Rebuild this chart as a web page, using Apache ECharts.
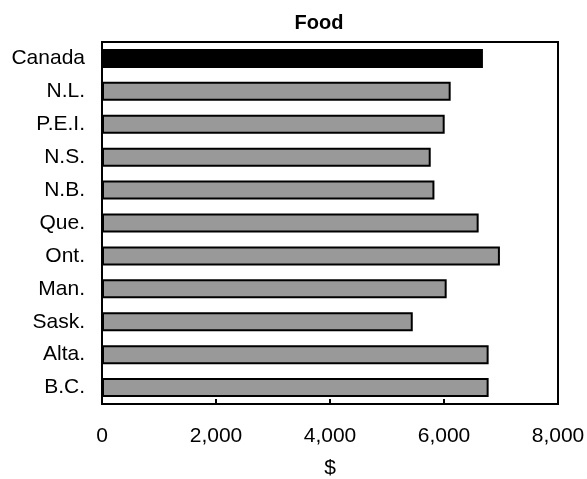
<!DOCTYPE html>
<html>
<head>
<meta charset="utf-8">
<script src="https://cdn.jsdelivr.net/npm/echarts@6/dist/echarts.min.js"></script>
<style>html,body{margin:0;padding:0;background:#fff;}#c{width:587px;height:479px;}</style>
</head>
<body>
<div id="c"></div>
<script>
const categories = ["Canada", "N.L.", "P.E.I.", "N.S.", "N.B.", "Que.", "Ont.", "Man.", "Sask.", "Alta.", "B.C."];
const values = [6683, 6117, 6012, 5767, 5832, 6608, 6981, 6047, 5452, 6783, 6783];
const xTicks = [0, 2000, 4000, 6000, 8000];
const titleText = "Food";
const xName = "$";

const chart = echarts.init(document.getElementById('c'), null, {renderer: 'canvas'});
const FONT = 'Liberation Sans, Arial, sans-serif';
chart.setOption({
  animation: false,
  backgroundColor: '#ffffff',
  title: {
    text: titleText, left: 314, top: 8, textAlign: 'center',
    textStyle: {fontFamily: FONT, fontSize: 20, fontWeight: 'bold', color: '#000'}
  },
  grid: {left: 102, right: 29, top: 42, bottom: 75, show: true, borderColor: '#000', borderWidth: 2,
    backgroundColor: 'transparent', containLabel: false, outerBoundsMode: 'none'},
  xAxis: {
    type: 'value', min: xTicks[0], max: xTicks[xTicks.length - 1], interval: 2000,
    name: xName, nameLocation: 'middle', nameGap: 54,
    nameTextStyle: {fontFamily: FONT, fontSize: 21, color: '#000'},
    axisLine: {show: true, lineStyle: {color: '#000', width: 2}},
    axisTick: {show: true, inside: true, length: 5, lineStyle: {color: '#000', width: 2}},
    splitLine: {show: false},
    axisLabel: {fontFamily: FONT, fontSize: 21, color: '#000', margin: 22,
      formatter: v => v.toLocaleString('en-US')}
  },
  yAxis: {
    type: 'category', data: categories, inverse: true,
    axisLine: {show: true, lineStyle: {color: '#000', width: 2}},
    axisTick: {show: false},
    axisLabel: {fontFamily: FONT, fontSize: 21, color: '#000', margin: 17}
  },
  series: [{
    type: 'bar', barWidth: 19,
    data: values.map((v, i) => ({
      value: v,
      itemStyle: {color: i === 0 ? '#000000' : '#999999', borderColor: '#000', borderWidth: 2}
    }))
  }]
});
</script>
</body>
</html>
